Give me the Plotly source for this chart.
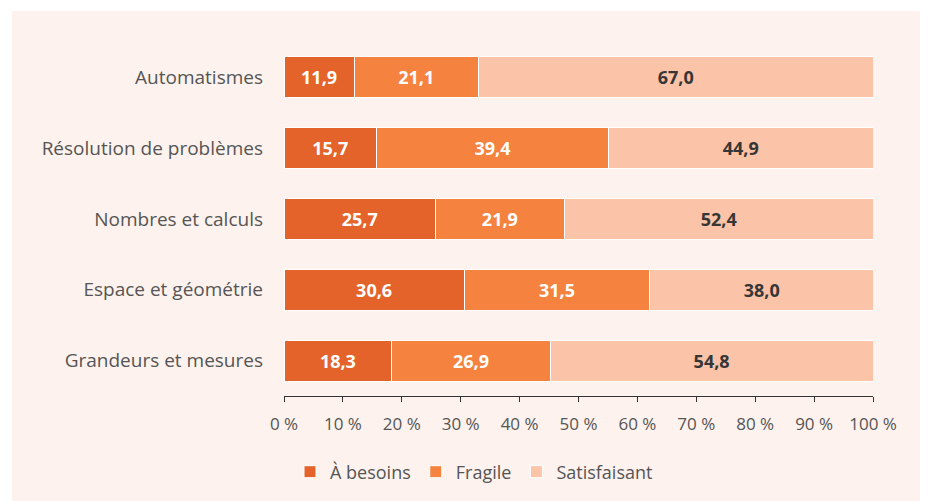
import plotly.graph_objects as go

categories = ["Automatismes", "Résolution de problèmes", "Nombres et calculs",
              "Espace et géométrie", "Grandeurs et mesures"]
a_besoins = [11.9, 15.7, 25.7, 30.6, 18.3]
fragile = [21.1, 39.4, 21.9, 31.5, 26.9]
satisfaisant = [67.0, 44.9, 52.4, 38.0, 54.8]
series_names = ["À besoins", "Fragile", "Satisfaisant"]
tick_vals = [0, 10, 20, 30, 40, 50, 60, 70, 80, 90, 100]
tick_labels = ["0 %", "10 %", "20 %", "30 %", "40 %", "50 %",
               "60 %", "70 %", "80 %", "90 %", "100 %"]

colors = ["#e4632a", "#f5823f", "#fbc3a8"]
text_colors = ["#ffffff", "#ffffff", "#363636"]
BG = "#fdf2ed"
FONT = "Open Sans"

fig = go.Figure()
for name, vals, c, tc in zip(series_names, [a_besoins, fragile, satisfaisant], colors, text_colors):
    fig.add_trace(go.Bar(
        y=categories, x=vals, name=name, orientation="h",
        marker=dict(color=c, line=dict(color="#ffffff", width=1)),
        texttemplate="<b>%{x:.1f}</b>", textposition="inside",
        insidetextanchor="middle",
        textfont=dict(color=tc, size=18, family=FONT),
        hoverinfo="skip",
    ))

# page offset of the figure inside the html body (default body margin)
OFF = 8
W, H = 928, 501
L = 284 - OFF
T = 42 - OFF
R = W - (873 - OFF)
B = H - (396 - OFF)
pw, ph = W - L - R, H - T - B

# white strips on top and left (the rest of the page is the peach panel)
fig.add_shape(type="rect", xref="paper", yref="paper",
              x0=-L / pw, x1=(W - L) / pw,
              y0=(H - B - (11 - OFF)) / ph, y1=(H - B) / ph + 0.05,
              fillcolor="#ffffff", line=dict(width=0), layer="below")
fig.add_shape(type="rect", xref="paper", yref="paper",
              x0=-L / pw - 0.05, x1=(12 - OFF - L) / pw,
              y0=-B / ph - 0.05, y1=(H - B) / ph + 0.05,
              fillcolor="#ffffff", line=dict(width=0), layer="below")

fig.update_layout(
    width=W, height=H,
    margin=dict(l=L, r=R, t=T, b=B),
    barmode="stack", bargap=0.42,
    separators=", ",
    paper_bgcolor=BG, plot_bgcolor="rgba(0,0,0,0)",
    font=dict(family=FONT, color="#555555", size=16),
    showlegend=True,
    legend=dict(orientation="h", x=(290 - OFF - L) / pw, xanchor="left",
                y=-(472 - 396) / ph, yanchor="middle",
                font=dict(size=18, color="#555555"),
                bgcolor="rgba(0,0,0,0)", traceorder="normal",
                itemwidth=30),
    xaxis=dict(range=[0, 100], tickvals=tick_vals, ticktext=tick_labels,
               showgrid=False, zeroline=False, showline=True,
               linecolor="#333333", linewidth=1, ticks="outside",
               ticklen=5, tickcolor="#333333", fixedrange=True,
               ticklabelstandoff=8,
               tickfont=dict(size=17, color="#555555")),
    yaxis=dict(categoryorder="array", categoryarray=categories,
               autorange="reversed", showgrid=False, zeroline=False,
               showline=False, ticks="", ticklabelstandoff=20,
               tickfont=dict(size=19, color="#555555")),
)

fig.write_html("out.html")
